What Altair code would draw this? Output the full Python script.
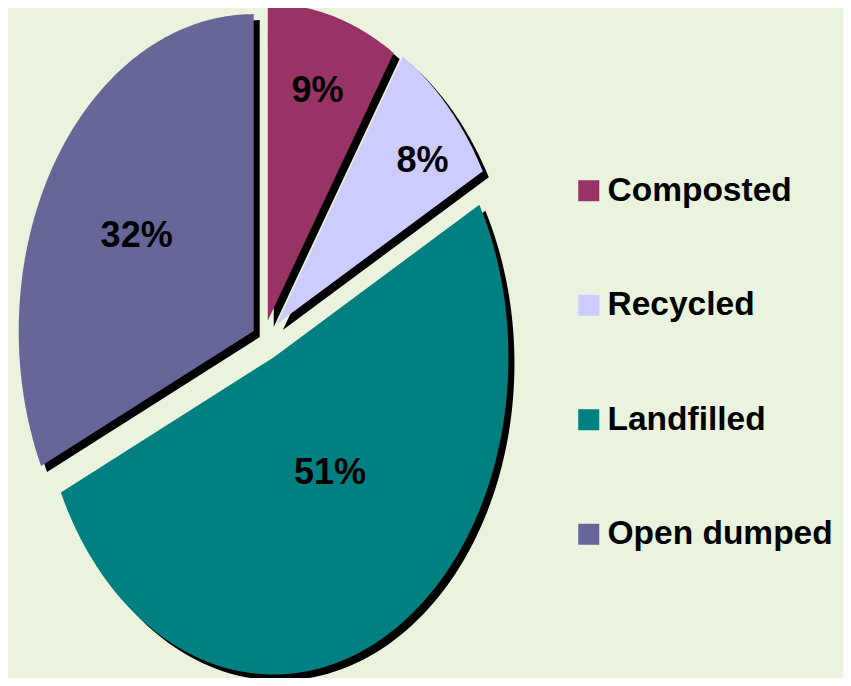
import altair as alt
import numpy as np
import pandas as pd

# ---- data ----
categories = ["Composted", "Recycled", "Landfilled", "Open dumped"]
shares = [9, 8, 51, 32]
labels = ["9%", "8%", "51%", "32%"]
colors = ["#993366", "#CCCCFF", "#008080", "#666699"]

# ---- layout / style ----
W, H = 835, 670
CX, CY = 255, 329          # pie centre (pixels)
RX, RY = 235, 317          # elliptical radii (pixels)
explode = [17, 19, 23, 11]  # explosion distance per slice
label_fx = [0.76, 0.85, 0.53, 0.59]
label_fy = [0.756, 0.75, 0.41, 0.56]
SHADOW_DX, SHADOW_DY = 6, 6
N = 120
FONT = "Liberation Sans"
BG = "#EAF3DE"

total = float(sum(shares))
ends = np.cumsum(shares)
starts = ends - np.array(shares)

base_df = pd.DataFrame({
    "category": categories,
    "label": labels,
    "start": starts,
    "end": ends,
    "total": total,
    "explode": explode,
    "fx": label_fx,
    "fy": label_fy,
})

# one row per outline vertex step (k = -1 is the slice apex)
poly_df = base_df.loc[base_df.index.repeat(N + 2)].copy()
poly_df["k"] = np.tile(np.arange(-1, N + 1), len(categories))

xs = alt.Scale(domain=[0, W], nice=False, zero=False)
ys = alt.Scale(domain=[0, H], nice=False, zero=False, reverse=True)
fill_scale = alt.Scale(domain=categories, range=colors)

poly_base = alt.Chart(poly_df).transform_calculate(
    a0="2*PI*datum.start/datum.total",
    a1="2*PI*datum.end/datum.total",
).transform_calculate(
    mid="(datum.a0+datum.a1)/2",
    a=f"datum.a0+(datum.a1-datum.a0)*max(datum.k,0)/{N}",
    r="datum.k < 0 ? 0 : 1",
).transform_calculate(
    px=f"{CX}+datum.explode*sin(datum.mid)+datum.r*{RX}*sin(datum.a)",
    py=f"{CY}-datum.explode*cos(datum.mid)-datum.r*{RY}*cos(datum.a)",
).transform_calculate(
    sx=f"datum.px+{SHADOW_DX}",
    sy=f"datum.py+{SHADOW_DY}",
)

shadow = poly_base.mark_line(
    fill="black", strokeWidth=0, strokeOpacity=0, interpolate="linear"
).encode(
    x=alt.X("sx:Q", scale=xs, axis=None),
    y=alt.Y("sy:Q", scale=ys, axis=None),
    detail="category:N",
    order="k:Q",
)

legend = alt.Legend(
    orient="none", legendX=564, legendY=166, title=None,
    symbolType="square", symbolSize=441, symbolStrokeWidth=0,
    symbolOpacity=1, labelFont=FONT, labelFontSize=33.5,
    labelFontWeight="bold", labelColor="black", rowPadding=79.5,
    labelOffset=2, padding=0, labelLimit=400,
)

slices = poly_base.mark_line(
    strokeWidth=0, strokeOpacity=0, interpolate="linear"
).encode(
    x=alt.X("px:Q", scale=xs, axis=None),
    y=alt.Y("py:Q", scale=ys, axis=None),
    fill=alt.Fill("category:N", scale=fill_scale, legend=legend),
    detail="category:N",
    order="k:Q",
)

text = alt.Chart(base_df).transform_calculate(
    a0="2*PI*datum.start/datum.total",
    a1="2*PI*datum.end/datum.total",
).transform_calculate(
    mid="(datum.a0+datum.a1)/2",
).transform_calculate(
    tx=f"{CX}+datum.explode*sin(datum.mid)+datum.fx*{RX}*sin(datum.mid)",
    ty=f"{CY}-datum.explode*cos(datum.mid)-datum.fy*{RY}*cos(datum.mid)",
).mark_text(
    font=FONT, fontSize=36, fontWeight="bold", color="black",
    align="center", baseline="middle",
).encode(
    x=alt.X("tx:Q", scale=xs, axis=None),
    y=alt.Y("ty:Q", scale=ys, axis=None),
    text="label:N",
)

chart = alt.layer(shadow, slices, text).properties(
    width=W, height=H, padding=0, autosize="none"
).configure(background=BG).configure_view(stroke=None)

chart.save("out.html", embed_options={"renderer": "svg", "actions": False})
